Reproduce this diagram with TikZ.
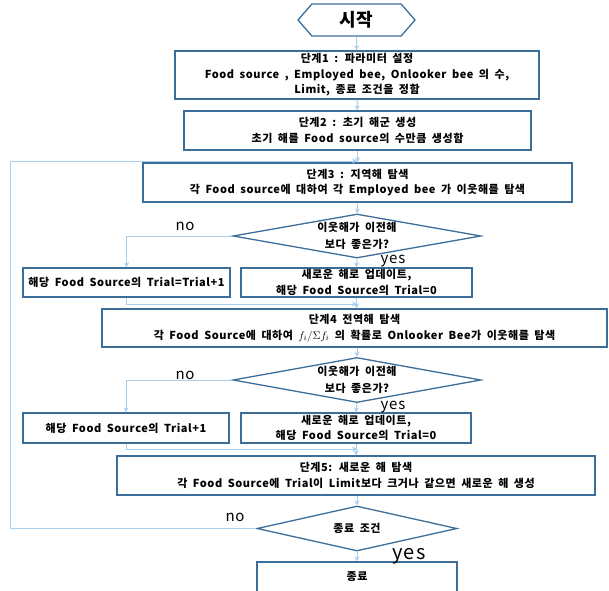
\documentclass[tikz,border=0pt]{standalone}
\usepackage{fontspec}
\setmainfont{Noto Sans CJK KR}[LetterSpace=5,WordSpace=1.8]
\usetikzlibrary{shapes.geometric,shapes.symbols,arrows.meta}
\definecolor{boxblue}{HTML}{3B6E99}
\definecolor{lineblue}{HTML}{A8D0EE}

\begin{document}
\begin{tikzpicture}[x=1pt,y=-1pt,
    stepbox/.style={draw=boxblue, line width=1.3pt, align=center, inner sep=1pt,
      font=\fontsize{11}{15.5}\selectfont\bfseries},
    decision/.style={diamond, draw=boxblue, line width=1.3pt, align=center, inner sep=0pt,
      aspect=5.6, font=\fontsize{11}{17}\selectfont\bfseries},
    flow/.style={draw=lineblue, line width=1pt, -{Stealth[length=5pt,width=5pt]}},
    yn/.style={font=\fontsize{15}{15}\selectfont}]
    \useasboundingbox (0,0) rectangle (609,590);

    \node (start) at (356.5,20)[shape=signal, signal to=west and east, signal pointer angle=98,
      draw=boxblue, line width=1.3pt, minimum width=117, minimum height=32, inner sep=0pt,
      font=\fontsize{18}{18}\selectfont\bfseries]{시작};

    \node (box1) at (357,75)[stepbox, minimum width=364, minimum height=48]
      {단계1 : 파라미터 설정\\Food source , Employed bee, Onlooker bee 의 수,\\Limit, 종료 조건을 정함};
    \node (box2) at (357.5,130.5)[stepbox, minimum width=347, minimum height=39]
      {단계2 : 초기 해군 생성\\초기 해를 Food source의 수만큼 생성함};
    \node (box3) at (357.5,182.5)[stepbox, minimum width=429, minimum height=39]
      {단계3 : 지역해 탐색\\각 Food source에 대하여 각 Employed bee 가 이웃해를 탐색};

    \node (dia1) at (357,236)[decision, minimum width=248, minimum height=44]
      {이웃해가 이전해\\보다 좋은가?};
    \node (left1) at (126.5,282.5)[stepbox, minimum width=207, minimum height=29]
      {해당 Food Source의 Trial=Trial+1};
    \node (right1) at (356.5,282.5)[stepbox, minimum width=231, minimum height=29]
      {새로운 해로 업데이트,\\해당 Food Source의 Trial=0};

    \node (box4) at (354.5,328)[stepbox, minimum width=505, minimum height=38]
      {단계4 전역해 탐색\\각  Food Source에 대하여 $f_i/\Sigma f_i$ 의 확률로 Onlooker Bee가 이웃해를 탐색};

    \node (dia2) at (357,380)[decision, minimum width=248, minimum height=45]
      {이웃해가 이전해\\보다 좋은가?};
    \node (left2) at (126,428)[stepbox, minimum width=206, minimum height=30]
      {해당 Food Source의 Trial+1};
    \node (right2) at (356,428)[stepbox, minimum width=230, minimum height=30]
      {새로운 해로 업데이트,\\해당 Food Source의 Trial=0};

    \node (box5) at (356,475.5)[stepbox, minimum width=478, minimum height=39]
      {단계5: 새로운 해 탐색\\각 Food Source에 Trial이 Limit보다 크거나 같으면 새로운 해 생성};

    \node (dia3) at (357,528.5)[decision, minimum width=200, minimum height=45]{종료 조건};
    \node (stop) at (357,577)[stepbox, minimum width=200, minimum height=30]{종료};

    \node (no1) at (185,226)[yn]{no};
    \node (yes1) at (393,261)[yn]{yes};
    \node (no2) at (185,375)[yn]{no};
    \node (yes2) at (393,407)[yn]{yes};
    \node (no3) at (235,517)[yn]{no};
    \node (yes3) at (409,556)[yn, font=\fontsize{20}{20}\selectfont]{yes};

    \coordinate (loop) at (10,161);
    \coordinate (join0) at (357,161);
    \coordinate (join1) at (357,304);
    \coordinate (join2) at (357,449);

    \draw[flow] (start) -- (box1);
    \draw[flow] (box1) -- (box2);
    \draw[flow] (box2.south) -- (box3.north);
    \draw[flow] (dia3.west) -| (loop) -- (join0);

    \draw[flow] (box3) -- (dia1);
    \draw[flow] (dia1.west) -| (left1.north);
    \draw[flow] (dia1.south) -- (right1.north);
    \draw[flow] (left1.south) |- (join1);
    \draw[flow] (right1.south) -- (right1.south |- box4.north);

    \draw[flow] (box4.south -| dia2.north) -- (dia2.north);
    \draw[flow] (dia2.west) -| (left2.north);
    \draw[flow] (dia2.south) -- (right2.north);
    \draw[flow] (left2.south) |- (join2);
    \draw[flow] (right2.south) -- (right2.south |- box5.north);

    \draw[flow] (box5.south -| dia3.north) -- (dia3.north);
    \draw[flow] (dia3.south) -- (stop.north);
\end{tikzpicture}
\end{document}
